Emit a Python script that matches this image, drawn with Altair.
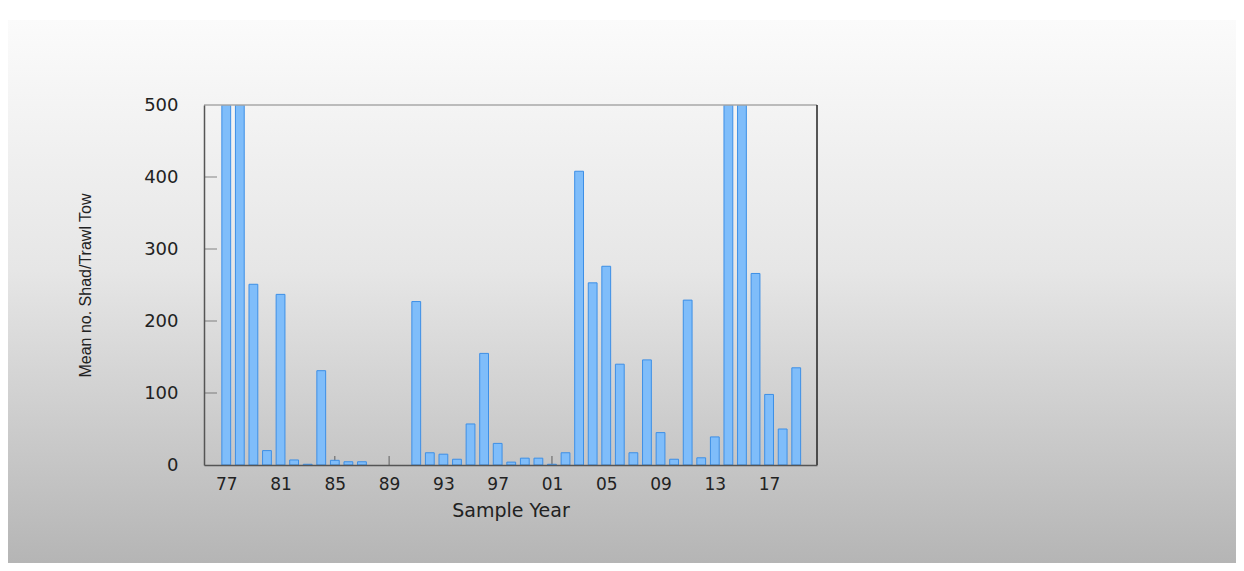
import altair as alt
import pandas as pd

# ---- data ----
years = list(range(1977, 2020))
values = [500, 500, 251, 20, 237, 7, 1, 131, 6.5, 4.5,
          4.5, 0, 0, 0, 227, 17, 15, 8, 57, 155,
          30, 4, 9.5, 9.5, 1, 17, 408, 253, 276, 140,
          17, 146, 45, 8, 229, 10, 39, 500, 500, 266,
          98, 50, 135]
x_tick_years = [1977, 1981, 1985, 1989, 1993, 1997, 2001, 2005, 2009, 2013, 2017]
y_ticks = [0, 100, 200, 300, 400, 500]
y_inner_ticks = [100, 200, 300, 400]

X_DOMAIN = [1975.36, 2020.53]
Y_DOMAIN = [0, 500]

df = pd.DataFrame({"year": years, "value": values})
xt = pd.DataFrame({"year": x_tick_years})
yt = pd.DataFrame({"v": y_inner_ticks})
one = alt.Data(values=[{}])

W, H = 613, 360
PAD = {"left": 196, "top": 97, "right": 1228 - 196 - 613, "bottom": 555 - 97 - 360}

xscale = alt.Scale(domain=X_DOMAIN, nice=False, zero=False, padding=0)
yscale = alt.Scale(domain=Y_DOMAIN, nice=False, padding=0)

grad = alt.LinearGradient(
    gradient="linear",
    x1=0, x2=0, y1=0, y2=1,
    stops=[
        alt.GradientStop(color="#fbfbfb", offset=0),
        alt.GradientStop(color="#e6e6e6", offset=0.45),
        alt.GradientStop(color="#b3b3b3", offset=1),
    ],
)

background = alt.Chart(one).mark_rect(color=grad).encode(
    x=alt.value(-197), x2=alt.value(1040),
    y=alt.value(-85), y2=alt.value(470),
)

x_ticks_layer = alt.Chart(xt).mark_tick(
    orient="vertical", size=9, thickness=1, yOffset=-4.5, color="#333333"
).encode(
    x=alt.X("year:Q", scale=xscale),
    y=alt.value(H),
)

y_ticks_layer = alt.Chart(yt).mark_tick(
    orient="horizontal", size=13, thickness=1, xOffset=6.5, color="#555555"
).encode(
    y=alt.Y("v:Q", scale=yscale),
    x=alt.value(0),
)

bars = alt.Chart(df).transform_filter(
    "datum.value > 0"
).mark_bar(
    size=8.8, fill="#7fbdfa", stroke="#3d8fe6", strokeWidth=1, clip=True
).encode(
    x=alt.X(
        "year:Q",
        scale=xscale,
        axis=alt.Axis(
            values=x_tick_years,
            labelExpr="substring(toString(datum.value), 2)",
            ticks=False, tickSize=0, grid=False,
            domainColor="#555555", domainWidth=1.5,
            labelFont="DejaVu Sans", labelFontSize=17, labelColor="#222222",
            labelPadding=11, labelBaseline="top",
            title="Sample Year",
            titleFont="DejaVu Sans", titleFontSize=19, titleFontWeight="normal",
            titleColor="#222222", titleX=W / 2, titleY=45, titleBaseline="middle",
            zindex=1,
        ),
    ),
    y=alt.Y(
        "value:Q",
        scale=yscale,
        axis=alt.Axis(
            values=y_ticks,
            ticks=False, tickSize=0, grid=False,
            domainColor="#555555", domainWidth=1.5,
            labelFont="DejaVu Sans", labelFontSize=18, labelColor="#222222",
            labelPadding=26,
            title="Mean no. Shad/Trawl Tow",
            titleFont="Liberation Sans", titleFontSize=16,
            titleFontWeight="normal", titleColor="#222222",
            titleAngle=270, titleX=-119, titleY=H / 2, titleBaseline="middle",
            titleAlign="center",
            zindex=1,
        ),
    ),
)

top_line = alt.Chart(one).mark_rule(color="#a8a8a8", strokeWidth=1.5).encode(
    y=alt.Y(datum=Y_DOMAIN[1], scale=yscale)
)
right_line = alt.Chart(one).mark_rule(color="#222222", strokeWidth=1.5).encode(
    x=alt.X(datum=X_DOMAIN[1], scale=xscale)
)

chart = alt.layer(
    background, x_ticks_layer, y_ticks_layer, bars, top_line, right_line
).properties(
    width=W, height=H, padding=PAD, autosize="none", background="white"
).configure_view(stroke=None)

chart.save("out.html", embed_options={"renderer": "svg", "actions": False})
